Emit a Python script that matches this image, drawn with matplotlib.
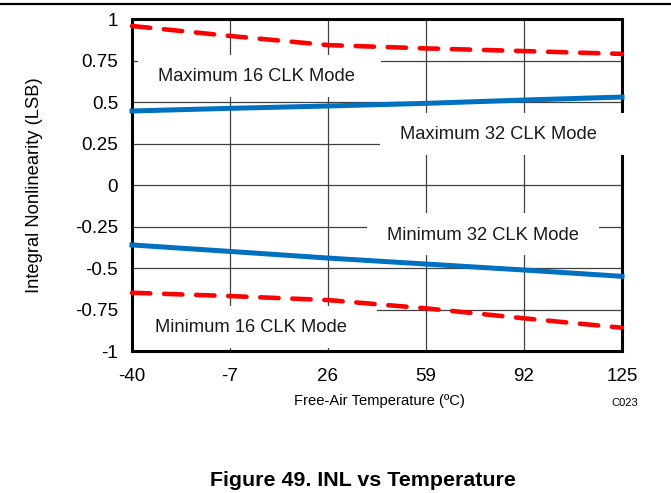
import matplotlib
matplotlib.use("Agg")
import matplotlib.pyplot as plt
from matplotlib.patches import Rectangle
from matplotlib.lines import Line2D

plt.rcParams['font.family'] = ['Liberation Sans', 'DejaVu Sans']

# --- data ---
temps = [-40, -7, 26, 59, 92, 125]
max_16clk = [0.958, 0.898, 0.843, 0.823, 0.807, 0.790]
max_32clk = [0.446, 0.462, 0.476, 0.492, 0.512, 0.530]
min_32clk = [-0.361, -0.400, -0.440, -0.476, -0.512, -0.550]
min_16clk = [-0.649, -0.669, -0.693, -0.743, -0.803, -0.860]

y_ticks = [-1, -0.75, -0.5, -0.25, 0, 0.25, 0.5, 0.75, 1]
y_tick_labels = ['-1', '-0.75', '-0.5', '-0.25', '0', '0.25', '0.5', '0.75', '1']

# label text, text anchor (x, y), white box (x0, y0, x1, y1)
labels = [
    ("Maximum 16 CLK Mode", (-31.2, 0.652), (-38.0, 0.530, 43.8, 0.783)),
    ("Maximum 32 CLK Mode", (50.2, 0.303), (43.5, 0.181, 128.0, 0.434)),
    ("Minimum 32 CLK Mode", (45.9, -0.305), (39.1, -0.422, 117.2, -0.169)),
    ("Minimum 16 CLK Mode", (-32.3, -0.860), (-39.3, -0.982, 42.5, -0.729)),
]

red = '#FF0000'
blue = '#0070C0'

fig = plt.figure(figsize=(6.71, 4.93), dpi=100)
ax = fig.add_axes([0.1967, 0.288, 0.7303, 0.6734])

ax.plot(temps, max_16clk, color=red, lw=3.3, dashes=(4.0, 3.0),
        dash_capstyle='round', zorder=5, clip_on=False)
ax.plot(temps, min_16clk, color=red, lw=3.3, dashes=(4.0, 3.0),
        dash_capstyle='round', zorder=5, clip_on=False)
ax.plot(temps, max_32clk, color=blue, lw=3.6, zorder=5, clip_on=False)
ax.plot(temps, min_32clk, color=blue, lw=3.6, zorder=5, clip_on=False)

for text, (tx, ty), (x0, y0, x1, y1) in labels:
    ax.add_patch(Rectangle((x0, y0), x1 - x0, y1 - y0, facecolor='white',
                           edgecolor='none', zorder=3, clip_on=False))
    ax.text(tx, ty, text, fontsize=13.2, ha='left', va='center',
            color='#1a1a1a', zorder=4)

ax.set_xlim(-40, 125)
ax.set_ylim(-1, 1)
ax.set_xticks(temps)
ax.set_xticklabels([str(t) for t in temps])
ax.set_yticks(y_ticks)
ax.set_yticklabels(y_tick_labels)
ax.tick_params(length=0, labelsize=13.5, colors='black')
ax.tick_params(axis='x', pad=12)
ax.tick_params(axis='y', pad=10)
ax.grid(True, color='#404040', lw=0.9)
ax.set_axisbelow(True)
for s in ax.spines.values():
    s.set_linewidth(2.2)
    s.set_color('black')
    s.set_zorder(2.5)

ax.set_ylabel('Integral Nonlinearity (LSB)', fontsize=13.2)
ax.yaxis.set_label_coords(-0.182, 0.5)
ax.set_xlabel('Free-Air Temperature (\u00baC)', fontsize=10.6)
ax.xaxis.set_label_coords(0.505, -0.128)

fig.text(625 / 671, 1 - 403 / 493, 'C023', fontsize=8, ha='center', va='center')
fig.text(363 / 671, 1 - 480 / 493, 'Figure 49. INL vs Temperature',
         fontsize=15.4, fontweight='bold', ha='center', va='center')
fig.add_artist(Line2D([0, 1], [1 - 4 / 493, 1 - 4 / 493], color='black', lw=1.6))

fig.savefig('out.png', dpi=100)
